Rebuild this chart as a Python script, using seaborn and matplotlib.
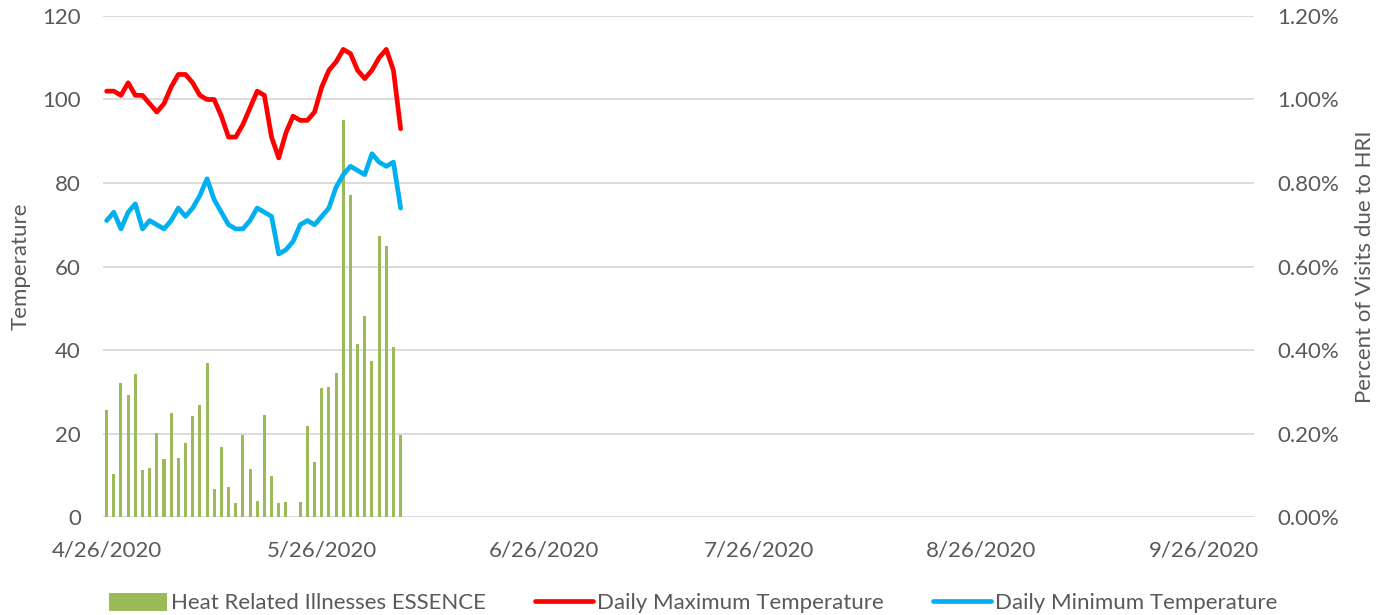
import matplotlib
matplotlib.use("Agg")
import matplotlib.pyplot as plt
import matplotlib.dates as mdates
from matplotlib.ticker import FuncFormatter
import seaborn as sns
import pandas as pd
import numpy as np

# ---- data ----
dates = pd.date_range("2020-04-26", periods=42, freq="D")
hri_pct = [0.256, 0.103, 0.320, 0.292, 0.342, 0.112, 0.117, 0.202, 0.140, 0.248,
           0.141, 0.177, 0.243, 0.268, 0.369, 0.066, 0.168, 0.071, 0.034, 0.196,
           0.114, 0.038, 0.244, 0.098, 0.034, 0.035, 0.0, 0.037, 0.218, 0.131,
           0.310, 0.311, 0.344, 0.952, 0.771, 0.415, 0.482, 0.373, 0.674, 0.649,
           0.408, 0.196]
max_temp = [102, 102, 101, 104, 101, 101, 99, 97, 99, 103,
            106, 106, 104, 101, 100, 100, 96, 91, 91, 94,
            98, 102, 101, 91, 86, 92, 96, 95, 95, 97,
            103, 107, 109, 112, 111, 107, 105, 107, 110, 112,
            107, 93]
min_temp = [71, 73, 69, 73, 75, 69, 71, 70, 69, 71,
            74, 72, 74, 77, 81, 76, 73, 70, 69, 69,
            71, 74, 73, 72, 63, 64, 66, 70, 71, 70,
            72, 74, 79, 82, 84, 83, 82, 87, 85, 84,
            85, 74]
tick_dates = ["2020-04-26", "2020-05-26", "2020-06-26", "2020-07-26", "2020-08-26", "2020-09-26"]
tick_labels = ["4/26/2020", "5/26/2020", "6/26/2020", "7/26/2020", "8/26/2020", "9/26/2020"]
axis_start = "2020-04-26"
axis_end = "2020-10-03"

bar_label = "Heat Related Illnesses ESSENCE"
max_label = "Daily Maximum Temperature"
min_label = "Daily Minimum Temperature"

# ---- style ----
sns.set_theme(style="white")
plt.rcParams["font.family"] = ["Lato", "DejaVu Sans"]
txt = "#595959"
fs = 16

df = pd.DataFrame({
    "x": mdates.date2num(dates),
    "hri": hri_pct,
    "tmax": max_temp,
    "tmin": min_temp,
})

fig, ax = plt.subplots(figsize=(13.87, 6.15), dpi=100)
fig.subplots_adjust(left=0.0743, right=0.904, top=0.974, bottom=0.1593)
ax2 = ax.twinx()
ax.set_zorder(2)
ax2.set_zorder(1)
ax.patch.set_visible(False)

sns.barplot(data=df, x="x", y="hri", native_scale=True, color="#9BBB59",
            saturation=1, width=0.42, linewidth=0, errorbar=None,
            ax=ax2, label=bar_label)
sns.lineplot(data=df, x="x", y="tmax", ax=ax, color="#FF0000", lw=3.4,
             label=max_label, solid_capstyle="round", solid_joinstyle="round")
sns.lineplot(data=df, x="x", y="tmin", ax=ax, color="#00B0F0", lw=3.4,
             label=min_label, solid_capstyle="round", solid_joinstyle="round")

x0 = mdates.date2num(pd.Timestamp(axis_start)) - 0.5
x1 = mdates.date2num(pd.Timestamp(axis_end))
ax.set_xlim(x0, x1)
ax2.set_xlim(x0, x1)

ax.set_ylim(0, 120)
ax.set_yticks(np.arange(0, 121, 20))
ax2.set_ylim(0, 1.2)
ax2.set_yticks(np.arange(0, 1.21, 0.2))
ax2.yaxis.set_major_formatter(FuncFormatter(lambda v, p: f"{v:.2f}%"))

ax.set_xticks(mdates.date2num(pd.to_datetime(tick_dates)))
ax.set_xticklabels(tick_labels)

ax2.yaxis.grid(True, color="#D9D9D9", lw=1.3)
ax2.xaxis.grid(False)
ax.grid(False)
ax2.set_axisbelow(True)

for a in (ax, ax2):
    for s in a.spines.values():
        s.set_visible(False)
    a.tick_params(length=0, colors=txt, labelsize=fs)
ax.tick_params(axis="x", pad=17)
ax.tick_params(axis="y", pad=16)
ax2.tick_params(axis="y", pad=17)

ax.set_xlabel("")
ax.set_ylabel("Temperature", color=txt, fontsize=fs, labelpad=8)
ax2.set_ylabel("Percent of Visits due to HRI", color=txt, fontsize=fs, labelpad=11)

h2, l2 = ax2.get_legend_handles_labels()
h1, l1 = ax.get_legend_handles_labels()
for a in (ax, ax2):
    if a.get_legend() is not None:
        a.get_legend().remove()
leg = fig.legend(h2 + h1, l2 + l1, loc="lower center", bbox_to_anchor=(0.5, -0.03),
                 ncol=3, frameon=False, fontsize=fs, handlelength=2.6,
                 handleheight=0.9, handletextpad=0.2, columnspacing=2.2)
for t in leg.get_texts():
    t.set_color(txt)

fig.savefig("out.png", dpi=100)
